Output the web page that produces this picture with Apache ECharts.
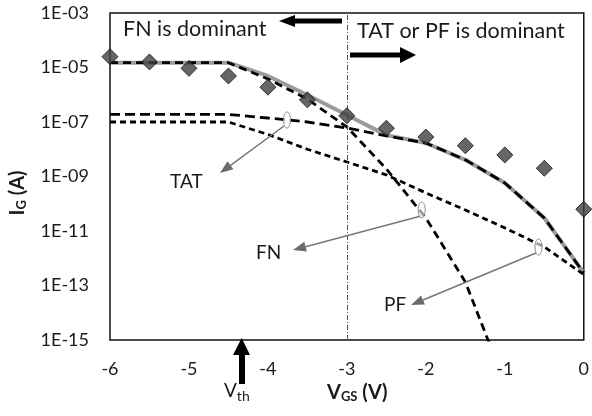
<!DOCTYPE html>
<html>
<head>
<meta charset="utf-8">
<script src="https://cdn.jsdelivr.net/npm/echarts@6/dist/echarts.min.js"></script>
<style>html,body{margin:0;padding:0;background:#fff;}#c{width:592px;height:416px;}</style>
</head>
<body>
<div id="c"></div>
<script>
// ---- data ----
const xValues  = [-6, -5.5, -5, -4.5, -4, -3.5, -3, -2.5, -2, -1.5, -1, -0.5, 0];
const measured = [2.5e-5, 1.6e-5, 9.3e-6, 4.9e-6, 1.9e-6, 6.5e-7, 1.7e-7, 5.9e-8, 2.8e-8, 1.35e-8, 6.2e-9, 2.0e-9, 6.3e-11];
const total    = [1.5e-5, 1.5e-5, 1.5e-5, 1.5e-5, 4.9e-6, 9.8e-7, 1.8e-7, 3.3e-8, 1.7e-8, 4.1e-9, 5.8e-10, 3.0e-11, 2.9e-13];
const fnCur    = [1.5e-5, 1.5e-5, 1.5e-5, 1.5e-5, 3.8e-6, 6.9e-7, 6.6e-8, 1.9e-9, 3.0e-11, 1.35e-13, 2.6e-17, null, null];
const tatCur   = [1.9e-7, 1.9e-7, 1.9e-7, 1.9e-7, 1.4e-7, 1.0e-7, 6.0e-8, 3.1e-8, 1.7e-8, 4.1e-9, 5.8e-10, 3.0e-11, 2.9e-13];
const pfCur    = [1.0e-7, 1.0e-7, 1.0e-7, 1.0e-7, 3.5e-8, 1.0e-8, 3.4e-9, 1.15e-9, 2.5e-10, 5.9e-11, 1.3e-11, 2.6e-12, 2.5e-13];
const yTickLabels = ['1E-15', '1E-13', '1E-11', '1E-09', '1E-07', '1E-05', '1E-03'];
const boundaryV = -3;

const pairs = arr => xValues.map((x, i) => [x, arr[i]]);
const FONT = 'Lato, "DejaVu Sans", sans-serif';
const TXT = '#1a1a1a';

function arrowGray(x1, y1, x2, y2) {
  const L = 13, W = 5;
  const dx = x2 - x1, dy = y2 - y1, len = Math.hypot(dx, dy);
  const ux = dx / len, uy = dy / len;
  const bx = x2 - ux * L, by = y2 - uy * L;
  return [
    { type: 'line', shape: { x1: x1, y1: y1, x2: bx, y2: by }, style: { stroke: '#777', lineWidth: 1.5 }, z: 50 },
    { type: 'polygon', shape: { points: [[x2, y2], [bx - uy * W, by + ux * W], [bx + uy * W, by - ux * W]] }, style: { fill: '#6b6b6b' }, z: 50 }
  ];
}
function ellipse(cx, cy) {
  return { type: 'ellipse', shape: { cx: cx, cy: cy, rx: 3.5, ry: 8 }, style: { fill: 'rgba(255,255,255,0.6)', stroke: '#888', lineWidth: 1 }, z: 51 };
}
function label(text, x, y, size) {
  return { type: 'text', x: x, y: y, style: { text: text, fontFamily: FONT, fontSize: size, fill: TXT, align: 'left', verticalAlign: 'middle' }, z: 60 };
}

const chart = echarts.init(document.getElementById('c'), null, { renderer: 'canvas' });
const option = {
  animation: false,
  backgroundColor: '#fff',
  grid: { left: 110, right: 6, top: 13, bottom: 76, show: true, borderColor: '#111', borderWidth: 1.5, backgroundColor: 'transparent' },
  xAxis: {
    type: 'value', min: -6, max: 0, interval: 1,
    axisLine: { show: false }, axisTick: { show: false }, splitLine: { show: false },
    axisLabel: { fontFamily: FONT, fontSize: 18, color: TXT, margin: 20 }
  },
  yAxis: [
    { type: 'log', logBase: 10, min: 1e-15, max: 1e-3,
      axisLine: { show: false }, axisTick: { show: false }, splitLine: { show: false }, axisLabel: { show: false } },
    { type: 'category', data: yTickLabels, boundaryGap: false, position: 'left',
      axisLine: { show: false }, axisTick: { show: false }, splitLine: { show: false },
      axisLabel: { fontFamily: FONT, fontSize: 18, color: TXT, margin: 21 } }
  ],
  series: [
    { name: 'Total', type: 'line', yAxisIndex: 0, data: pairs(total), symbol: 'none', z: 2,
      lineStyle: { color: '#9b9b9b', width: 4 },
      markLine: { silent: true, symbol: 'none', label: { show: false },
        lineStyle: { color: '#555', width: 1, type: [5, 2, 1, 2] },
        data: [{ xAxis: boundaryV }] } },
    { name: 'FN', type: 'line', yAxisIndex: 0, data: pairs(fnCur), symbol: 'none', z: 3,
      lineStyle: { color: '#000', width: 2.8, type: [8, 5] } },
    { name: 'TAT', type: 'line', yAxisIndex: 0, data: pairs(tatCur), symbol: 'none', z: 3,
      lineStyle: { color: '#000', width: 2.8, type: [10, 5] } },
    { name: 'PF', type: 'line', yAxisIndex: 0, data: pairs(pfCur), symbol: 'none', z: 3,
      lineStyle: { color: '#000', width: 2.8, type: [6, 4] } },
    { name: 'Measured', type: 'scatter', yAxisIndex: 0, data: pairs(measured), symbol: 'diamond', symbolSize: 16, z: 5,
      itemStyle: { color: '#404040', borderColor: '#111', borderWidth: 1 } }
  ],
  graphic: [].concat(
    [
      label('FN is dominant', 123, 29, 21.5),
      label('TAT or PF is dominant', 357, 31, 21.5),
      { type: 'polygon', shape: { points: [[342, 18.5], [295, 18.5], [295, 15], [279, 21], [295, 27], [295, 23.5], [342, 23.5]] }, style: { fill: '#000' }, z: 60 },
      { type: 'polygon', shape: { points: [[350, 52.5], [400, 52.5], [400, 47], [416, 55], [400, 63], [400, 57.5], [350, 57.5]] }, style: { fill: '#000' }, z: 60 },
      { type: 'polygon', shape: { points: [[239, 384], [239, 355], [233, 355], [241.7, 338], [250, 355], [245, 355], [245, 384]] }, style: { fill: '#000' }, z: 60 },
      { type: 'text', x: 224, y: 391, style: { text: 'V{s|th}', fontFamily: FONT, fontSize: 19, fill: TXT, align: 'left', verticalAlign: 'middle',
          rich: { s: { fontFamily: FONT, fontSize: 14, fill: TXT, padding: [11, 0, 0, 0] } } }, z: 60 },
      { type: 'text', x: 327, y: 393, style: { text: 'V{s|GS} (V)', fontFamily: FONT, fontWeight: 'bold', fontSize: 20, fill: TXT, align: 'left', verticalAlign: 'middle',
          rich: { s: { fontFamily: FONT, fontWeight: 'bold', fontSize: 13, fill: TXT, padding: [8, 0, 0, 0] } } }, z: 60 },
      { type: 'text', x: 18, y: 193, rotation: Math.PI / 2, style: { text: 'I{s|G} (A)', fontFamily: FONT, fontWeight: 'bold', fontSize: 20, fill: TXT, align: 'center', verticalAlign: 'middle',
          rich: { s: { fontFamily: FONT, fontWeight: 'bold', fontSize: 13, fill: TXT, padding: [8, 0, 0, 0] } } }, z: 60 },
      label('TAT', 170, 182, 19),
      label('FN', 256, 253, 19),
      label('PF', 384, 305, 19),
      ellipse(287, 120), ellipse(421.7, 210), ellipse(538.5, 247)
    ],
    arrowGray(284, 126, 220, 173),
    arrowGray(421, 216, 293, 250),
    arrowGray(536, 253, 411, 305)
  )
};
chart.setOption(option);
</script>
</body>
</html>
